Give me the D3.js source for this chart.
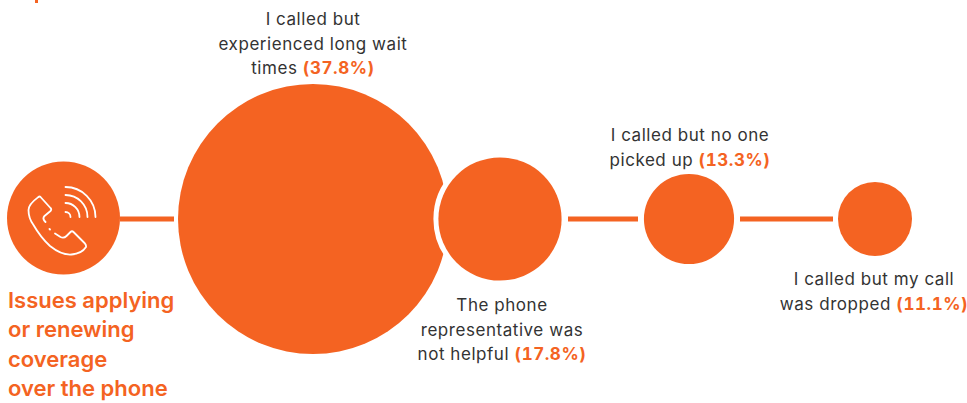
<!DOCTYPE html>
<html>
<head>
<meta charset="utf-8">
<script src="https://cdn.jsdelivr.net/npm/d3@7"></script>
<style>
html, body { margin: 0; padding: 0; background: #fff; }
svg { display: block; }
text { font-family: "Inter", sans-serif; }
</style>
</head>
<body>
<div id="chart"></div>
<script>
// Reasons for phone trouble, share of respondents (%)
const reasons = [
  "I called but experienced long wait times",
  "The phone representative was not helpful",
  "I called but no one picked up",
  "I called but my call was dropped"
];
const shares = [37.8, 17.8, 13.3, 11.1];
const hubLabel = ["Issues applying", "or renewing", "coverage", "over the phone"];
const labelLines = [
  ["I called but", "experienced long wait", "times "],
  ["The phone", "representative was", "not helpful "],
  ["I called but no one", "picked up "],
  ["I called but my call", "was dropped "]
];
const centres = [313, 500, 689, 875];
const labelAnchors = [313, 502, 690, 874];
const labelFirstBaselines = [25, 311, 141, 285];

const W = 967, H = 403, lineH = 24.5, cy = 219;
const ORANGE = "#f46322", INK = "#333333";

const svg = d3.select("#chart").append("svg").attr("width", W).attr("height", H);

const radius = d3.scaleLinear().domain([11.1, 37.8]).range([37, 135]);
const x = d3.scaleOrdinal().domain(reasons).range(centres);

// Small orange tick at the top edge
svg.append("rect")
  .attr("x", 35).attr("y", 0)
  .attr("width", 3).attr("height", 3)
  .attr("fill", ORANGE);

// Connector segments between neighbouring circles
const connectors = [[120, 174], [568, 638], [740, 833]];
svg.append("g").selectAll("line").data(connectors).join("line")
  .attr("x1", d => d[0]).attr("x2", d => d[1])
  .attr("y1", cy).attr("y2", cy)
  .attr("stroke", ORANGE).attr("stroke-width", 5);

// Hub circle with the telephone icon
const hub = svg.append("g").attr("transform", "translate(63.5,218)");
hub.append("circle").attr("r", 56.5).attr("fill", ORANGE);
const icon = hub.append("g").attr("fill", "none").attr("stroke", "#fff")
  .attr("stroke-width", 1.8).attr("stroke-linecap", "round").attr("stroke-linejoin", "round");
icon.append("path").attr("d",
  "M-25,-21 C-29,-18 -35,-14 -35,-8 C-35,-2 -33,3 -30,7 C-26,14 -20,22 -13.5,28 C-6,34 2,37 8,36.5 C14,36 20,33 22.5,29 C23,27 22,26 21,25 L10,14 C9,13 8,13 7,14 L3,18 C1,20 -1,20 -3,19 L-8.5,15.5 M-13.5,11.5 L-14,11 M-18,4 C-20,2 -21,0 -19,-2 L-13,-7 C-12,-8 -12,-9 -13,-10 L-23,-21 C-24,-22 -24.5,-21.5 -25,-21");
icon.append("path").attr("d", "M2,-6 A5,5 0 0 1 7,-1");
icon.append("path").attr("d", "M2,-15 A14,14 0 0 1 16,-1");
icon.append("path").attr("d", "M2,-23 A22,22 0 0 1 24,-1");
icon.append("path").attr("d", "M2,-31 A30,30 0 0 1 32,-1");

// Value circles; the second one sits on a white ring that bites into the first
const circles = svg.append("g").selectAll("g").data(shares).join("g")
  .attr("transform", (d, i) => `translate(${x(reasons[i])},${cy})`);
circles.append("circle")
  .attr("r", d => radius(d))
  .attr("fill", ORANGE)
  .attr("stroke", (d, i) => i === 1 ? "#fff" : "none")
  .attr("stroke-width", 10)
  .attr("paint-order", "stroke");

// Labels, with the value in bold at the end of the last line
const labels = svg.append("g").selectAll("text").data(shares).join("text")
  .attr("text-anchor", "middle")
  .attr("font-size", 17)
  .attr("letter-spacing", 0.55)
  .attr("fill", INK);
labels.each(function (d, i) {
  const t = d3.select(this);
  labelLines[i].forEach((line, j) => {
    t.append("tspan")
      .attr("x", labelAnchors[i])
      .attr("y", labelFirstBaselines[i] + j * lineH)
      .style("white-space", "pre")
      .text(line);
  });
  t.append("tspan")
    .attr("font-weight", 700)
    .attr("fill", ORANGE)
    .style("font-variant-numeric", "tabular-nums")
    .text(`(${d.toFixed(1)}%)`);
});

// Heading under the hub circle
svg.append("g").selectAll("text").data(hubLabel).join("text")
  .attr("x", 8)
  .attr("y", (d, i) => 308 + i * 29.3)
  .attr("font-size", 22)
  .attr("font-weight", 600)
  .attr("fill", ORANGE)
  .text(d => d);
</script>
</body>
</html>
